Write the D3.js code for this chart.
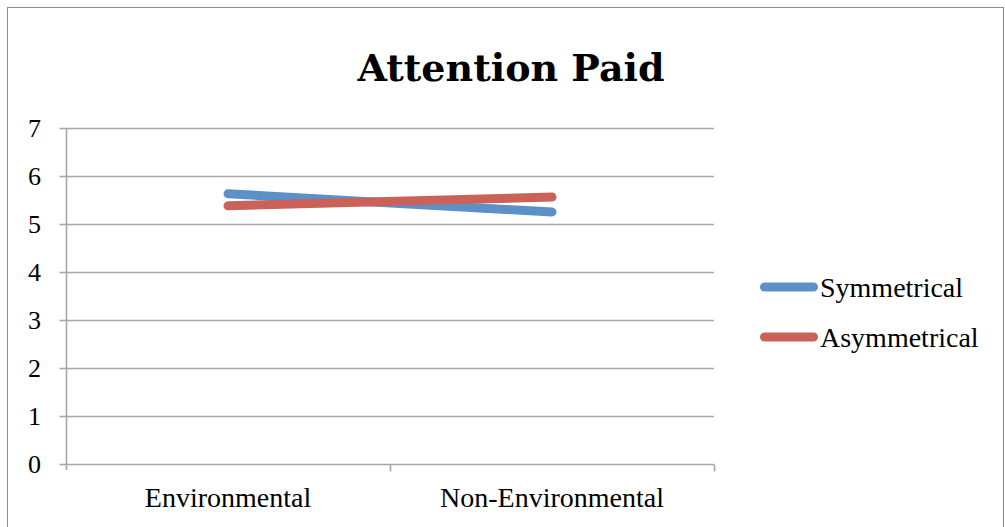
<!DOCTYPE html>
<html>
<head>
<meta charset="utf-8">
<script src="https://cdn.jsdelivr.net/npm/d3@7"></script>
<style>
  html, body { margin: 0; padding: 0; background: #fff; }
  svg { display: block; }
  text { font-family: "Liberation Serif", "DejaVu Serif", serif; fill: #000; }
</style>
</head>
<body>
<svg id="chart" width="1005" height="527"></svg>
<script>
// Mean attention scores per condition
const categories = ["Environmental", "Non-Environmental"];
const seriesNames = ["Symmetrical", "Asymmetrical"];
const symmetrical = [5.63, 5.25];
const asymmetrical = [5.38, 5.56];
const yTicks = [0, 1, 2, 3, 4, 5, 6, 7];
const colors = ["#5B90C8", "#CB625A"];

const svg = d3.select("#chart");
const W = 1005, H = 527;
const plot = { left: 66, right: 714, top: 128, bottom: 464 };
const gridColor = "#a6a6a6";

// Outer frame
svg.append("rect")
  .attr("x", 7.5).attr("y", 7.5)
  .attr("width", W - 9).attr("height", H + 10)
  .attr("fill", "none").attr("stroke", "#8c8c8c").attr("stroke-width", 1);

// Title
svg.append("text")
  .attr("x", 511).attr("y", 81)
  .attr("text-anchor", "middle")
  .style("font-family", "'DejaVu Serif', serif")
  .style("font-size", "38px").style("font-weight", "bold")
  .text("Attention Paid");

const x = d3.scaleBand().domain(categories).range([plot.left, plot.right]);
const y = d3.scaleLinear().domain([0, 7]).range([plot.bottom, plot.top]);

// Horizontal gridlines
svg.append("g")
  .selectAll("line")
  .data(yTicks)
  .join("line")
  .attr("x1", plot.left).attr("x2", plot.right)
  .attr("y1", d => y(d) + 0.5).attr("y2", d => y(d) + 0.5)
  .attr("stroke", gridColor).attr("stroke-width", 1.6);

// Y axis
const yAxis = svg.append("g")
  .attr("transform", `translate(${plot.left + 0.5},0)`)
  .call(d3.axisLeft(y).tickValues(yTicks).tickSize(7).tickFormat(d3.format("d")));
yAxis.select(".domain").attr("stroke", gridColor).attr("stroke-width", 1.6)
  .attr("d", `M0,${plot.top}V${plot.bottom + 6}`);
yAxis.selectAll(".tick line").attr("stroke", gridColor).attr("stroke-width", 1.6);
yAxis.selectAll(".tick text")
  .style("font-size", "26px").attr("text-anchor", "middle")
  .attr("x", -32).attr("dy", "0.33em");

// X axis with category labels centred in each band
const xAxis = svg.append("g")
  .attr("transform", `translate(0,${plot.bottom + 0.5})`)
  .call(d3.axisBottom(x).tickSize(0));
xAxis.select(".domain").remove();
xAxis.selectAll(".tick text")
  .style("font-size", "28px").attr("y", 42).attr("dy", 0);
// Category boundary ticks
const bounds = [x("Non-Environmental"), plot.right];
xAxis.append("g").selectAll("line")
  .data(bounds)
  .join("line")
  .attr("x1", d => d + 0.5).attr("x2", d => d + 0.5)
  .attr("y1", 0).attr("y2", 7)
  .attr("stroke", gridColor).attr("stroke-width", 1.6);

// Series lines
const series = [symmetrical, asymmetrical];
const line = d3.line()
  .x((d, i) => x(categories[i]) + x.bandwidth() / 2)
  .y(d => y(d));
svg.append("g")
  .selectAll("path")
  .data(series)
  .join("path")
  .attr("d", d => line(d))
  .attr("fill", "none")
  .attr("stroke", (d, i) => colors[i])
  .attr("stroke-width", 9)
  .attr("stroke-linecap", "round")
  .attr("stroke-linejoin", "round");

// Legend
const legend = svg.append("g");
const legendY = [287, 337];
seriesNames.forEach((name, i) => {
  legend.append("line")
    .attr("x1", 764.5).attr("x2", 813.5)
    .attr("y1", legendY[i]).attr("y2", legendY[i])
    .attr("stroke", colors[i]).attr("stroke-width", 9)
    .attr("stroke-linecap", "round");
  legend.append("text")
    .attr("x", 820).attr("y", legendY[i] + 10)
    .style("font-size", "28px")
    .text(name);
});
</script>
</body>
</html>
